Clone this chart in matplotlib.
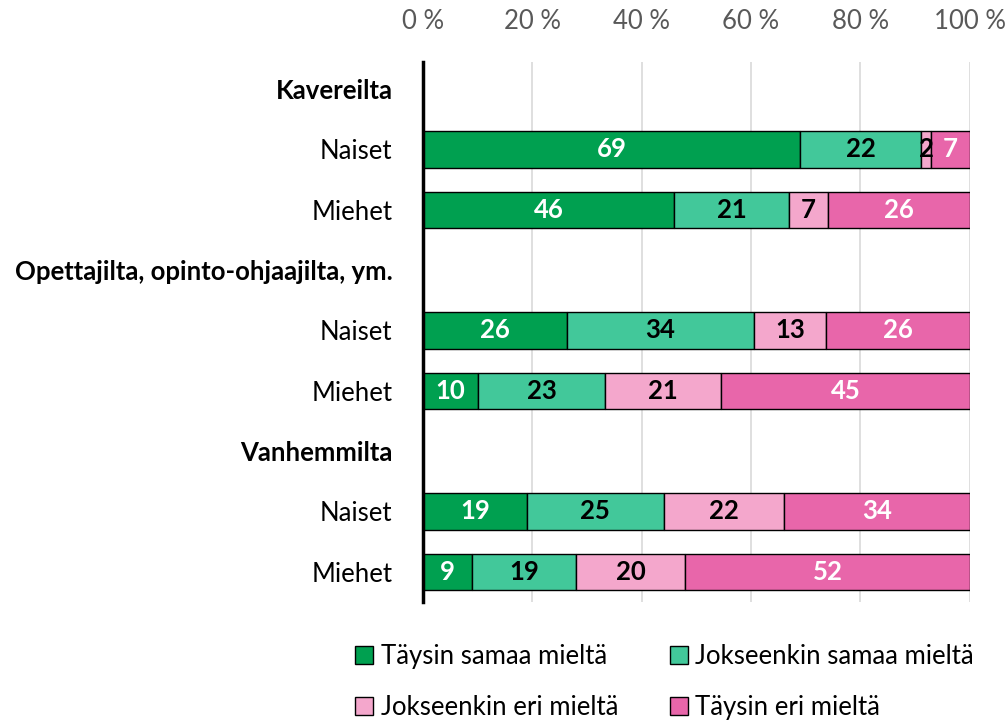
import numpy as np
import matplotlib.pyplot as plt

rows = ['Kavereilta', 'Naiset', 'Miehet',
        'Opettajilta, opinto-ohjaajilta, ym.', 'Naiset', 'Miehet',
        'Vanhemmilta', 'Naiset', 'Miehet']
headers = [0, 3, 6]
bar_rows = [1, 2, 4, 5, 7, 8]

series = ['Täysin samaa mieltä', 'Jokseenkin samaa mieltä',
          'Jokseenkin eri mieltä', 'Täysin eri mieltä']
taysin_samaa = [69, 46, 26, 10, 19, 9]
jokseenkin_samaa = [22, 21, 34, 23, 25, 19]
jokseenkin_eri = [2, 7, 13, 21, 22, 20]
taysin_eri = [7, 26, 26, 45, 34, 52]

colors = ['#00a050', '#42c89a', '#f4a7cc', '#e866aa']
text_colors = ['white', 'black', 'black', 'white']
ticks = [0, 20, 40, 60, 80, 100]

plt.rcParams['font.family'] = ['Lato', 'DejaVu Sans']
fs = 18.5

fig = plt.figure(figsize=(10.07, 7.2), dpi=100)
ax = fig.add_axes([0.42, 0.164, 0.543, 0.75])

vals = np.array([taysin_samaa, jokseenkin_samaa, jokseenkin_eri, taysin_eri], dtype=float)
# rows that round to 99 are drawn full width, as in the original
widths = vals / vals.sum(axis=0) * 100

left = np.zeros(len(bar_rows))
handles = []
for i in range(4):
    b = ax.barh(bar_rows, widths[i], left=left, height=0.6, color=colors[i],
                edgecolor='black', linewidth=1, zorder=3, label=series[i])
    handles.append(b)
    for y, l, w, v in zip(bar_rows, left, widths[i], vals[i]):
        ax.text(l + w / 2, y, f'{v:.0f}', ha='center', va='center',
                color=text_colors[i], fontsize=fs, fontweight='bold', zorder=4)
    left += widths[i]

ax.set_xlim(0, 100)
ax.set_ylim(8.5, -0.45)
ax.xaxis.tick_top()
ax.set_xticks(ticks)
ax.set_xticklabels([f'{t} %' for t in ticks], fontsize=fs, color='#595959')
ax.tick_params(axis='x', length=0, pad=20)
ax.grid(axis='x', color='#d9d9d9', linewidth=1.2, zorder=0)

ax.set_yticks(range(len(rows)))
ax.set_yticklabels(rows, fontsize=fs)
ax.tick_params(axis='y', length=0, pad=22)
for i in headers:
    ax.get_yticklabels()[i].set_fontweight('bold')

for s in ['top', 'right', 'bottom']:
    ax.spines[s].set_visible(False)
ax.spines['left'].set_linewidth(2.5)
ax.spines['left'].set_zorder(5)

order = [0, 2, 1, 3]
fig.legend([handles[i] for i in order], [series[i] for i in order],
           ncol=2, loc='upper center', bbox_to_anchor=(0.66, 0.137),
           frameon=False, fontsize=fs, handlelength=0.7, handleheight=0.7,
           handletextpad=0.3, columnspacing=2.0, labelspacing=1.0)

fig.savefig('out.png', dpi=100)
